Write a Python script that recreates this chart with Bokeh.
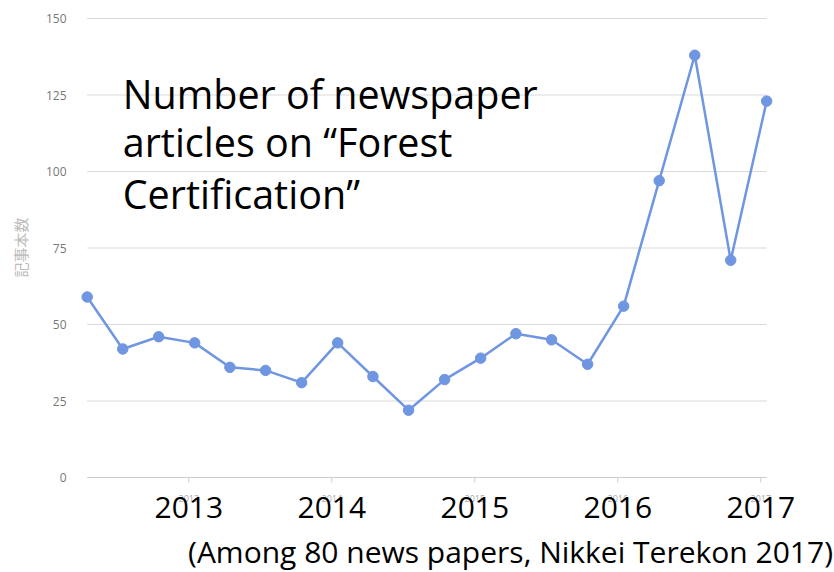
import math
from bokeh.plotting import figure
from bokeh.models import Range1d, Label
from bokeh.embed import file_html
from bokeh.resources import INLINE

# ---- data ----
dates = ["2012-04-16", "2012-07-16", "2012-10-16", "2013-01-16",
         "2013-04-16", "2013-07-16", "2013-10-16", "2014-01-16",
         "2014-04-16", "2014-07-16", "2014-10-16", "2015-01-16",
         "2015-04-16", "2015-07-16", "2015-10-16", "2016-01-16",
         "2016-04-16", "2016-07-16", "2016-10-16", "2017-01-16"]
articles = [59, 42, 46, 44, 36, 35, 31, 44, 33, 22,
            32, 39, 47, 45, 37, 56, 97, 138, 71, 123]
year_ticks = [2013, 2014, 2015, 2016, 2017]
year_labels = ["2013", "2014", "2015", "2016", "2017"]
y_ticks = [0, 25, 50, 75, 100, 125, 150]
y_tick_labels = ["0", "25", "50", "75", "100", "125", "150"]
title_lines = ["Number of newspaper", "articles on \u201cForest", "Certification\u201d"]
caption = "(Among 80 news papers, Nikkei Terekon 2017)"
y_title = "記事本数"

MONTH_DAYS = [31, 28, 31, 30, 31, 30, 31, 31, 30, 31, 30, 31]


def decimal_year(s):
    y, m, d = (int(v) for v in s.split("-"))
    leap = (y % 4 == 0 and y % 100 != 0) or y % 400 == 0
    md = MONTH_DAYS[:]
    if leap:
        md[1] = 29
    doy = sum(md[:m - 1]) + d - 1
    return y + doy / (366 if leap else 365)


xs = [decimal_year(s) for s in dates]

FONT = "Open Sans"
LINE = "#6f96e0"
GRID = "#d9d9d9"
AXIS = "#cccccc"

# canvas geometry: the plot frame covers the whole canvas
W, H = 834, 572
px_per_year = 143.0
px_per_unit = 3.06
x_start = xs[0] - 86.7 / px_per_year
x_end = x_start + W / px_per_year
y_end = 150 + 18 / px_per_unit          # 150 sits 18px below the top
y_start = y_end - H / px_per_unit       # so 0 sits ~477px from the top


def px_to_x(px):
    return x_start + px / px_per_year


p = figure(width=W, height=H, output_backend="svg", toolbar_location=None,
           x_range=Range1d(x_start, x_end), y_range=Range1d(y_start, y_end),
           x_axis_location=None, y_axis_location=None,
           min_border_left=0, min_border_right=0, min_border_top=0,
           min_border_bottom=0)
p.outline_line_color = None
p.background_fill_color = "white"
p.border_fill_color = "white"
p.xgrid.grid_line_color = None
p.ygrid.grid_line_color = None

# horizontal gridlines spanning the data extent
p.segment(x0=[xs[0]] * len(y_ticks), x1=[xs[-1]] * len(y_ticks),
          y0=y_ticks, y1=y_ticks,
          line_color=[AXIS if t == 0 else GRID for t in y_ticks], line_width=1)

# x tick marks on the baseline
tick_len = 5 / px_per_unit
p.segment(x0=year_ticks, x1=year_ticks, y0=[0] * len(year_ticks),
          y1=[-tick_len] * len(year_ticks), line_color=AXIS, line_width=1)

# series
p.line(xs, articles, line_color=LINE, line_width=2.5)
p.scatter(xs, articles, size=10.5, fill_color=LINE, line_color=LINE)

# y tick labels
for t, l in zip(y_ticks, y_tick_labels):
    p.add_layout(Label(x=px_to_x(66), y=t, text=l, text_align="right",
                       text_baseline="middle", text_font=FONT,
                       text_font_size="12px", text_color="#777777"))

# y axis title (rotated)
p.add_layout(Label(x=px_to_x(20), y=(477 - 247) / px_per_unit, text=y_title,
                   angle=math.pi / 2, text_align="center",
                   text_baseline="middle", text_font="Noto Sans CJK JP",
                   text_font_size="15px", text_color="#bbbbbb"))

# small grey year labels (original axis labels)
for t, l in zip(year_ticks, year_labels):
    p.add_layout(Label(x=t, y=-6.9, text=l, text_align="center",
                       text_baseline="alphabetic", text_font=FONT,
                       text_font_size="9px", text_color="#aaaaaa"))

# large overlaid year labels
for t, l in zip(year_ticks, year_labels):
    p.add_layout(Label(x=t, y=-9.8, text=l, text_align="center",
                       text_baseline="alphabetic", text_font=FONT,
                       text_font_size="30px", text_color="black"))

# overlaid title
title_x = 2012.538
for txt, ty in zip(title_lines, [125.3, 109.6, 92.6]):
    p.add_layout(Label(x=title_x, y=ty, text=txt, text_align="left",
                       text_baseline="alphabetic", text_font=FONT,
                       text_font_size="39.5px", text_color="black"))

# caption
p.add_layout(Label(x=2015.25, y=-24.2, text=caption, text_align="center",
                   text_baseline="alphabetic", text_font=FONT,
                   text_font_size="30px", text_color="black"))

open("out.html", "w").write(file_html(p, INLINE))
